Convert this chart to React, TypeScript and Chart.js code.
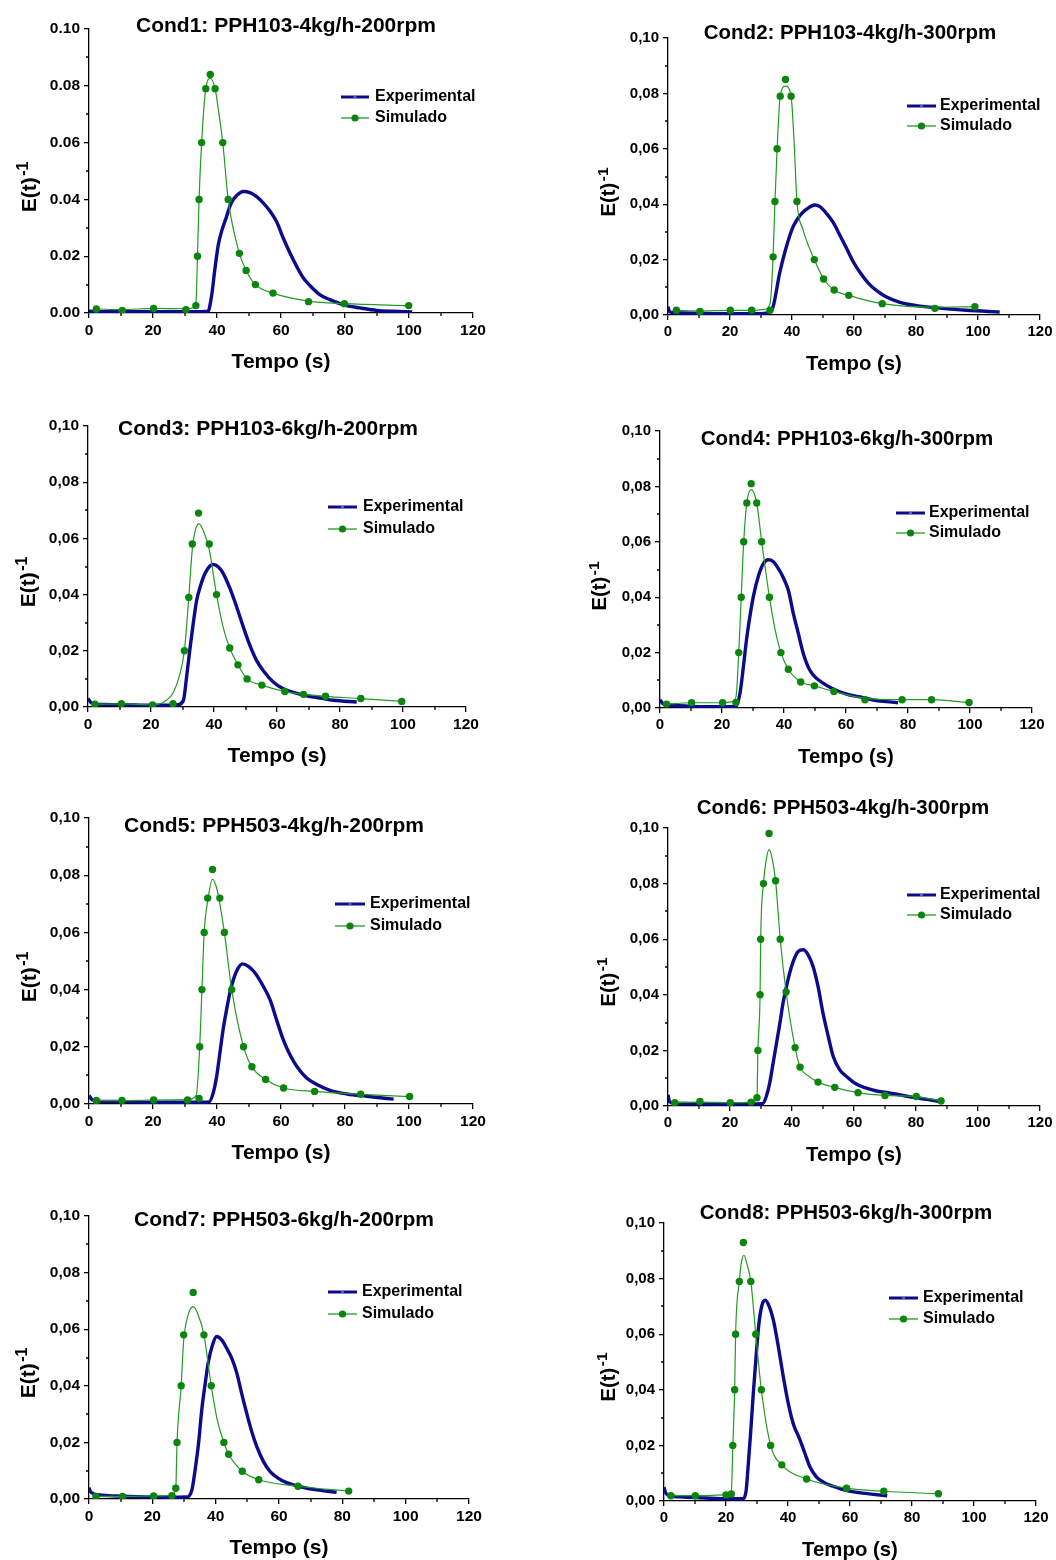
import React, { useEffect, useRef } from 'react';
import { Chart, registerables } from 'chart.js';

Chart.register(...registerables);

const FONT = '"Liberation Sans", Arial, Helvetica, sans-serif';
const EXP_COLOR = '#0b0b8c';
const SIM_LINE_COLOR = '#259a25';
const SIM_MARK_COLOR = '#0c850c';

// ---------- axis ticks ----------
const X_TICKS = [0, 20, 40, 60, 80, 100, 120];
const X_MINOR = [10, 30, 50, 70, 90, 110];
const Y_TICKS = [0, 0.02, 0.04, 0.06, 0.08, 0.1];
const Y_MINOR = [0.01, 0.03, 0.05, 0.07, 0.09];

const SERIES_NAMES = ['Experimental', 'Simulado'];

// ---------- Cond1 ----------
const c1ExpT = [0, 5, 10, 15, 20, 25, 30, 35, 37.2, 38.3, 39.4, 40.4, 41.5, 43, 44, 45.1, 46.1, 48.2, 50.3, 52.4, 54.5, 56.6, 58.6, 60.7, 62.8, 64.9, 67, 69.1, 72.2, 75.3, 79.5, 84.7, 90, 95, 101];
const c1ExpE = [0.0006, 0.0005, 0.0005, 0.0005, 0.0005, 0.0005, 0.0005, 0.0005, 0.0006, 0.006, 0.016, 0.024, 0.029, 0.034, 0.0375, 0.04, 0.0413, 0.0428, 0.0424, 0.041, 0.0387, 0.0358, 0.0322, 0.0264, 0.0211, 0.0164, 0.0123, 0.0096, 0.0064, 0.0047, 0.0029, 0.0018, 0.0009, 0.0006, 0.0004];
const c1SimT = [2.3, 10.4, 20.2, 30.3, 33.4, 33.9, 34.4, 35.2, 36.5, 37.9, 39.4, 41.8, 43.5, 47.0, 49.1, 52.0, 57.5, 68.6, 79.8, 99.9];
const c1SimE = [0.0014, 0.0009, 0.0016, 0.0012, 0.0026, 0.02, 0.04, 0.06, 0.079, 0.084, 0.079, 0.06, 0.04, 0.021, 0.015, 0.01, 0.007, 0.004, 0.0033, 0.0026];
const c1FitT = [2.3, 10.4, 20.2, 30.3, 32.5, 33.4, 33.9, 34.4, 35.2, 36.5, 37.9, 39.4, 40.5, 41.8, 43.5, 47.0, 49.1, 52.0, 57.5, 68.6, 79.8, 99.9];
const c1FitE = [0.0014, 0.0012, 0.0016, 0.0015, 0.0018, 0.0035, 0.02, 0.04, 0.06, 0.079, 0.0826, 0.079, 0.071, 0.06, 0.04, 0.021, 0.015, 0.01, 0.007, 0.0042, 0.0033, 0.0026];

// ---------- Cond2 ----------
const c2ExpT = [0, 0.5, 2, 5, 10, 15, 20, 25, 30, 32, 33.9, 36, 38.2, 40.4, 42.5, 44.7, 47.4, 49, 51.1, 53.3, 55.4, 57.6, 59.7, 61.9, 64.6, 67.3, 70.5, 74.8, 80.2, 87.7, 96.3, 107];
const c2ExpE = [0.003, 0.0012, 0.0008, 0.0007, 0.0006, 0.0005, 0.0005, 0.0005, 0.0005, 0.0008, 0.003, 0.015, 0.0247, 0.032, 0.0358, 0.0382, 0.0397, 0.0391, 0.0367, 0.0334, 0.0289, 0.0241, 0.0193, 0.0154, 0.0115, 0.0088, 0.0065, 0.0046, 0.0034, 0.0025, 0.0017, 0.0011];
const c2SimT = [2.7, 10.3, 20.1, 27.0, 32.9, 33.9, 34.5, 35.2, 36.2, 37.9, 39.7, 41.6, 47.2, 50.2, 53.6, 58.3, 69.1, 86.1, 99.0];
const c2SimE = [0.0017, 0.0013, 0.0017, 0.0017, 0.0017, 0.021, 0.041, 0.06, 0.079, 0.085, 0.079, 0.041, 0.02, 0.013, 0.009, 0.0071, 0.0041, 0.0024, 0.003];
const c2FitT = [2.7, 10.3, 20.1, 27.0, 31, 32.9, 33.9, 34.5, 35.2, 36.2, 37.9, 39.7, 40.7, 41.6, 43.5, 47.2, 50.2, 53.6, 58.3, 69.1, 86.1, 99.0];
const c2FitE = [0.0017, 0.0015, 0.0017, 0.0017, 0.002, 0.004, 0.021, 0.041, 0.06, 0.079, 0.0826, 0.079, 0.062, 0.041, 0.031, 0.02, 0.013, 0.009, 0.0071, 0.0041, 0.0028, 0.003];

// ---------- Cond3 ----------
const c3ExpT = [0, 1, 2.5, 5, 10, 15, 20, 25, 28.5, 30.3, 31.3, 32.4, 33.4, 34.5, 35.6, 37.1, 38.7, 39.8, 41.4, 43, 45.1, 47.2, 49.3, 51.4, 53.5, 55.7, 58.8, 62, 65.2, 69.4, 73.7, 77.9, 85.3];
const c3ExpE = [0.003, 0.0015, 0.001, 0.0009, 0.0008, 0.0007, 0.0006, 0.0006, 0.0008, 0.0024, 0.0107, 0.021, 0.0297, 0.038, 0.0427, 0.0474, 0.0502, 0.0507, 0.0498, 0.0474, 0.0421, 0.0356, 0.0285, 0.0219, 0.0166, 0.0128, 0.0089, 0.0065, 0.0052, 0.004, 0.0032, 0.0024, 0.0018];
const c3SimT = [2.2, 10.6, 20.5, 27.0, 30.6, 32.0, 33.1, 35.1, 38.5, 40.8, 45.0, 47.6, 50.5, 55.2, 62.5, 68.4, 75.4, 86.6, 99.6];
const c3SimE = [0.001, 0.0012, 0.0007, 0.0012, 0.02, 0.039, 0.058, 0.069, 0.058, 0.04, 0.021, 0.015, 0.01, 0.0078, 0.0055, 0.0045, 0.0038, 0.003, 0.002];
const c3FitT = [2.2, 10.6, 20.5, 23, 25, 27, 29, 30.6, 32.0, 33.1, 34.2, 35.3, 36.5, 38.5, 40.8, 43, 45.0, 47.6, 50.5, 55.2, 62.5, 68.4, 75.4, 86.6, 99.6];
const c3FitE = [0.001, 0.0011, 0.0008, 0.0012, 0.0025, 0.005, 0.011, 0.02, 0.039, 0.056, 0.0635, 0.0652, 0.063, 0.056, 0.04, 0.028, 0.021, 0.015, 0.01, 0.0078, 0.0055, 0.0045, 0.0038, 0.003, 0.002];

// ---------- Cond4 ----------
const c4ExpT = [0, 1, 3, 6, 10, 15, 20, 24.5, 25.8, 26.9, 27.9, 29, 30.1, 31.7, 33.3, 34.9, 36.5, 38.1, 39.8, 41.4, 43, 44.6, 46.2, 48.3, 50.5, 52.6, 54.8, 58, 61.2, 64.5, 68.8, 73.1, 76.8];
const c4ExpE = [0.003, 0.0015, 0.001, 0.0008, 0.0006, 0.0005, 0.0005, 0.0006, 0.0053, 0.0149, 0.0246, 0.033, 0.0402, 0.0475, 0.052, 0.0535, 0.0529, 0.0505, 0.047, 0.0425, 0.0342, 0.027, 0.0198, 0.0137, 0.0107, 0.009, 0.0075, 0.0058, 0.0047, 0.004, 0.0029, 0.0023, 0.0019];
const c4SimT = [2.1, 10.2, 20.2, 24.5, 25.4, 26.2, 27.0, 28.0, 29.4, 31.2, 32.8, 35.3, 39.0, 41.4, 45.4, 49.8, 56.1, 66.1, 78.1, 87.6, 99.7];
const c4SimE = [0.0014, 0.0019, 0.0019, 0.002, 0.02, 0.04, 0.06, 0.074, 0.081, 0.074, 0.06, 0.04, 0.02, 0.014, 0.0094, 0.008, 0.006, 0.003, 0.003, 0.003, 0.002];
const c4FitT = [2.1, 10.2, 20.2, 23, 24.5, 25.4, 26.2, 27.0, 28.0, 29.4, 31.2, 32.8, 35.3, 37, 39.0, 41.4, 45.4, 49.8, 56.1, 66.1, 78.1, 87.6, 99.7];
const c4FitE = [0.0014, 0.0019, 0.0019, 0.0022, 0.004, 0.02, 0.04, 0.06, 0.074, 0.0788, 0.074, 0.06, 0.04, 0.029, 0.02, 0.014, 0.0094, 0.008, 0.006, 0.0035, 0.003, 0.003, 0.002];

// ---------- Cond5 ----------
const c5ExpT = [0, 1, 3, 6, 10, 15, 20, 25, 30, 35, 37.5, 38.8, 39.9, 40.9, 41.9, 43, 44, 45.1, 46.6, 48, 49.8, 51.9, 54.5, 56.6, 58.6, 60.7, 62.8, 64.9, 68, 71.2, 75.3, 80.6, 86.8, 95.2];
const c5ExpE = [0.003, 0.0015, 0.001, 0.0009, 0.0008, 0.0007, 0.0006, 0.0006, 0.0006, 0.0006, 0.0007, 0.0038, 0.0097, 0.0178, 0.026, 0.033, 0.0388, 0.0434, 0.0475, 0.049, 0.0481, 0.0458, 0.0411, 0.0364, 0.0295, 0.0225, 0.0172, 0.0132, 0.0091, 0.0068, 0.0048, 0.0035, 0.0027, 0.0017];
const c5SimT = [2.3, 10.3, 20.2, 30.8, 34.4, 34.6, 35.3, 36.0, 37.1, 38.6, 40.9, 42.3, 44.6, 48.3, 50.9, 55.2, 60.8, 70.5, 84.9, 100.2];
const c5SimE = [0.0012, 0.0012, 0.0014, 0.0014, 0.0019, 0.02, 0.04, 0.06, 0.072, 0.082, 0.072, 0.06, 0.04, 0.02, 0.013, 0.0086, 0.0056, 0.0044, 0.0034, 0.0026];
const c5FitT = [2.3, 10.3, 20.2, 30.8, 33.5, 34.6, 35.3, 36.0, 37.1, 38.6, 40.0, 40.9, 42.3, 44.6, 48.3, 50.9, 55.2, 60.8, 70.5, 84.9, 100.2];
const c5FitE = [0.0012, 0.0012, 0.0014, 0.0015, 0.003, 0.02, 0.04, 0.06, 0.071, 0.0786, 0.075, 0.07, 0.06, 0.04, 0.02, 0.013, 0.0086, 0.0056, 0.0044, 0.0034, 0.0026];

// ---------- Cond6 ----------
const c6ExpT = [0, 0.5, 2, 5, 10, 15, 20, 25, 30.5, 31.7, 32.8, 33.9, 35, 36.1, 37.1, 38.7, 40.4, 42, 43.6, 45.2, 46.8, 48.4, 50, 51.7, 53.3, 55.4, 57.6, 60.3, 63.5, 67.3, 70.5, 74.8, 79.1, 83.4, 87.7];
const c6ExpE = [0.004, 0.0015, 0.001, 0.0009, 0.0008, 0.0007, 0.0007, 0.0007, 0.0008, 0.0034, 0.0082, 0.0154, 0.0226, 0.0298, 0.037, 0.0454, 0.052, 0.0556, 0.0562, 0.0544, 0.0502, 0.043, 0.0334, 0.025, 0.0178, 0.013, 0.0106, 0.0082, 0.0066, 0.0054, 0.0049, 0.004, 0.0031, 0.0024, 0.0016];
const c6SimT = [2.2, 10.3, 20.1, 26.8, 28.7, 29.0, 29.7, 29.9, 30.8, 32.6, 34.7, 36.2, 38.1, 41.0, 42.6, 48.4, 53.8, 61.3, 70.0, 80.1, 88.1];
const c6SimE = [0.0012, 0.0016, 0.0012, 0.0014, 0.003, 0.02, 0.04, 0.06, 0.08, 0.098, 0.081, 0.06, 0.041, 0.021, 0.014, 0.0086, 0.0067, 0.0048, 0.0038, 0.0034, 0.0018];
const c6FitT = [2.2, 10.3, 20.1, 26.8, 28.0, 28.7, 29.0, 29.7, 29.9, 30.8, 31.6, 32.6, 33.6, 34.7, 36.2, 38.1, 41.0, 42.6, 45, 48.4, 53.8, 61.3, 70.0, 80.1, 88.1];
const c6FitE = [0.0012, 0.0014, 0.0012, 0.0014, 0.0018, 0.003, 0.02, 0.04, 0.06, 0.08, 0.088, 0.0922, 0.089, 0.081, 0.06, 0.041, 0.021, 0.014, 0.011, 0.0086, 0.0067, 0.0048, 0.0038, 0.0034, 0.0018];

// ---------- Cond7 ----------
const c7ExpT = [0, 0.5, 3, 6, 10, 15, 20, 25, 31, 32.5, 33.5, 34.6, 35.6, 36.7, 37.7, 39, 40.3, 41.9, 43.5, 45.1, 46.7, 48.2, 49.8, 51.4, 53, 55.1, 57.2, 59.8, 62.4, 66.6, 71.9, 78.2];
const c7ExpE = [0.004, 0.0025, 0.0015, 0.0012, 0.001, 0.0008, 0.0007, 0.0006, 0.0007, 0.0032, 0.0102, 0.0197, 0.0314, 0.0409, 0.0485, 0.0544, 0.0574, 0.0562, 0.0532, 0.0497, 0.0444, 0.0373, 0.0303, 0.0238, 0.0185, 0.0132, 0.0097, 0.0073, 0.0058, 0.0044, 0.0032, 0.0024];
const c7SimT = [2.2, 10.6, 20.4, 26.2, 27.4, 27.8, 29.1, 29.9, 32.9, 36.3, 38.6, 42.6, 44.1, 48.4, 53.6, 66.0, 82.0];
const c7SimE = [0.0009, 0.0009, 0.0011, 0.0012, 0.0038, 0.02, 0.04, 0.058, 0.073, 0.058, 0.04, 0.02, 0.0158, 0.0098, 0.0068, 0.0045, 0.0028];
const c7FitT = [2.2, 10.6, 20.4, 25, 26.2, 27.4, 27.8, 29.1, 29.9, 31.3, 32.9, 34.5, 36.3, 38.6, 40.5, 42.6, 44.1, 48.4, 53.6, 66.0, 82.0];
const c7FitE = [0.0009, 0.0009, 0.0011, 0.0012, 0.0015, 0.0038, 0.02, 0.04, 0.056, 0.065, 0.068, 0.065, 0.058, 0.04, 0.028, 0.02, 0.0158, 0.0098, 0.0068, 0.0045, 0.0028];

// ---------- Cond8 ----------
const c8ExpT = [0, 0.5, 1.5, 5, 10, 15, 20, 25.5, 26.5, 27.2, 28, 28.8, 29.7, 30.5, 31.6, 32.7, 34, 35.3, 36.9, 38.5, 40.1, 41.7, 43.7, 45.5, 47.1, 49.2, 51.9, 54.6, 57.8, 62.2, 67.5, 72];
const c8ExpE = [0.005, 0.003, 0.002, 0.0015, 0.0012, 0.001, 0.0008, 0.0008, 0.0038, 0.0134, 0.0254, 0.0386, 0.0518, 0.0626, 0.0704, 0.0722, 0.0698, 0.065, 0.0554, 0.0446, 0.035, 0.0278, 0.0224, 0.017, 0.0122, 0.0086, 0.0065, 0.0053, 0.0041, 0.0031, 0.0024, 0.0019];
const c8SimT = [2.2, 10.1, 20.0, 21.7, 22.2, 22.8, 23.1, 24.3, 25.6, 28.0, 29.6, 31.4, 34.4, 38.0, 46.0, 58.9, 70.9, 88.5];
const c8SimE = [0.0019, 0.0019, 0.0022, 0.0025, 0.02, 0.04, 0.06, 0.079, 0.093, 0.079, 0.06, 0.04, 0.02, 0.013, 0.0079, 0.0046, 0.0035, 0.0026];
const c8FitT = [2.2, 10.1, 20.0, 21.7, 22.2, 22.8, 23.1, 24.3, 25.0, 25.8, 26.8, 28.0, 29.6, 31.4, 34.4, 38.0, 46.0, 58.9, 70.9, 88.5];
const c8FitE = [0.0019, 0.0019, 0.0022, 0.003, 0.02, 0.04, 0.06, 0.079, 0.086, 0.0884, 0.085, 0.079, 0.06, 0.04, 0.02, 0.013, 0.0079, 0.0046, 0.0035, 0.0026];

const TITLES = [
  'Cond1: PPH103-4kg/h-200rpm',
  'Cond2: PPH103-4kg/h-300rpm',
  'Cond3: PPH103-6kg/h-200rpm',
  'Cond4: PPH103-6kg/h-300rpm',
  'Cond5: PPH503-4kg/h-200rpm',
  'Cond6: PPH503-4kg/h-300rpm',
  'Cond7: PPH503-6kg/h-200rpm',
  'Cond8: PPH503-6kg/h-300rpm',
];
const X_TITLE = 'Tempo (s)';
const Y_TITLE_MAIN = 'E(t)';
const Y_TITLE_SUP = '-1';

type Layout = {
  col: number; dec: string; fs: number;
  L: number; T: number; R: number; B: number;
  tx: number; ty: number;
  lx0: number; lx1: number; ltx: number; ly1: number; ly2: number;
  yx: number; yy: number;
};

// page-coordinate layout of each panel (positions only)
const LAYOUTS: Layout[] = [
  { col: 0, dec: '.', fs: 1, L: 89, T: 29, R: 473, B: 313, tx: 286, ty: 26, lx0: 341, lx1: 369, ltx: 375, ly1: 97, ly2: 118, yx: 28, yy: 187 },
  { col: 1, dec: ',', fs: 0.97, L: 668, T: 38, R: 1040, B: 315, tx: 850, ty: 33, lx0: 907, lx1: 936, ltx: 940, ly1: 106, ly2: 126, yx: 608, yy: 192 },
  { col: 0, dec: ',', fs: 1, L: 88, T: 426, R: 466, B: 707, tx: 268, ty: 429, lx0: 328, lx1: 357, ltx: 363, ly1: 507, ly2: 529, yx: 27, yy: 582 },
  { col: 1, dec: ',', fs: 0.97, L: 660, T: 431, R: 1032, B: 708, tx: 847, ty: 439, lx0: 896, lx1: 925, ltx: 929, ly1: 513, ly2: 533, yx: 599, yy: 586 },
  { col: 0, dec: ',', fs: 1, L: 89, T: 818, R: 473, B: 1104, tx: 274, ty: 826, lx0: 335, lx1: 365, ltx: 370, ly1: 904, ly2: 926, yx: 28.5, yy: 977 },
  { col: 1, dec: ',', fs: 0.97, L: 668, T: 828, R: 1040, B: 1106, tx: 843, ty: 808, lx0: 907, lx1: 936, ltx: 940, ly1: 895, ly2: 915, yx: 607.5, yy: 982 },
  { col: 0, dec: ',', fs: 1, L: 89, T: 1216, R: 469, B: 1499, tx: 284, ty: 1220, lx0: 328, lx1: 357, ltx: 362, ly1: 1292, ly2: 1314, yx: 27.5, yy: 1373 },
  { col: 1, dec: ',', fs: 0.97, L: 664, T: 1223, R: 1036, B: 1501, tx: 846, ty: 1213, lx0: 889, lx1: 918, ltx: 923, ly1: 1298, ly2: 1319, yx: 607.5, yy: 1377 },
];

const SERIES = [
  { expT: c1ExpT, expE: c1ExpE, simT: c1SimT, simE: c1SimE, fitT: c1FitT, fitE: c1FitE },
  { expT: c2ExpT, expE: c2ExpE, simT: c2SimT, simE: c2SimE, fitT: c2FitT, fitE: c2FitE },
  { expT: c3ExpT, expE: c3ExpE, simT: c3SimT, simE: c3SimE, fitT: c3FitT, fitE: c3FitE },
  { expT: c4ExpT, expE: c4ExpE, simT: c4SimT, simE: c4SimE, fitT: c4FitT, fitE: c4FitE },
  { expT: c5ExpT, expE: c5ExpE, simT: c5SimT, simE: c5SimE, fitT: c5FitT, fitE: c5FitE },
  { expT: c6ExpT, expE: c6ExpE, simT: c6SimT, simE: c6SimE, fitT: c6FitT, fitE: c6FitE },
  { expT: c7ExpT, expE: c7ExpE, simT: c7SimT, simE: c7SimE, fitT: c7FitT, fitE: c7FitE },
  { expT: c8ExpT, expE: c8ExpE, simT: c8SimT, simE: c8SimE, fitT: c8FitT, fitE: c8FitE },
];

const pts = (t: number[], e: number[]) => t.map((x, i) => ({ x, y: e[i] }));

const X_AXIS_BELOW = 66;

function PanelChart({ idx }: { idx: number }) {
  const ref = useRef<HTMLCanvasElement | null>(null);
  const lay = LAYOUTS[idx];
  const colX = lay.col === 0 ? 0 : 540;
  const top = Math.max(0, lay.T - 40);
  const w = lay.R - colX + 24;
  const h = lay.B - top + X_AXIS_BELOW;

  useEffect(() => {
    const s = SERIES[idx];
    const fs = lay.fs;
    const tickFont = { family: FONT, size: 15.5 * fs, weight: 'bold' as const };

    const textPlugin = {
      id: 'panelText',
      afterDraw(chart: any) {
        const ctx = chart.ctx as CanvasRenderingContext2D;
        const xs = chart.scales.x;
        const ys = chart.scales.y;
        const ca = chart.chartArea;
        ctx.save();
        // minor ticks
        ctx.strokeStyle = '#000';
        ctx.lineWidth = 1.3;
        ctx.beginPath();
        X_MINOR.forEach((v) => {
          const px = Math.round(xs.getPixelForValue(v));
          ctx.moveTo(px, ca.bottom);
          ctx.lineTo(px, ca.bottom + 3);
        });
        Y_MINOR.forEach((v) => {
          const py = Math.round(ys.getPixelForValue(v));
          ctx.moveTo(ca.left - 3, py);
          ctx.lineTo(ca.left, py);
        });
        ctx.stroke();

        // panel title
        ctx.fillStyle = '#000';
        ctx.textAlign = 'center';
        ctx.textBaseline = 'middle';
        ctx.font = `bold ${21 * (fs < 1 ? 0.975 : 1)}px ${FONT}`;
        ctx.fillText(TITLES[idx], lay.tx - colX, lay.ty - top);

        // legend
        const ly1 = lay.ly1 - top;
        const ly2 = lay.ly2 - top;
        const lx0 = lay.lx0 - colX;
        const lx1 = lay.lx1 - colX;
        const mid = (lx0 + lx1) / 2;
        ctx.strokeStyle = EXP_COLOR;
        ctx.lineWidth = 3;
        ctx.beginPath();
        ctx.moveTo(lx0, ly1);
        ctx.lineTo(lx1, ly1);
        ctx.stroke();
        ctx.fillStyle = '#5a5ab0';
        ctx.fillRect(mid - 1.5, ly1 - 1, 3, 2);
        ctx.strokeStyle = SIM_LINE_COLOR;
        ctx.lineWidth = 1.3;
        ctx.beginPath();
        ctx.moveTo(lx0, ly2);
        ctx.lineTo(lx1, ly2);
        ctx.stroke();
        ctx.fillStyle = SIM_MARK_COLOR;
        ctx.beginPath();
        ctx.arc(mid, ly2, 3.6, 0, Math.PI * 2);
        ctx.fill();
        ctx.fillStyle = '#000';
        ctx.textAlign = 'left';
        ctx.font = `bold 16px ${FONT}`;
        ctx.fillText(SERIES_NAMES[0], lay.ltx - colX, ly1);
        ctx.fillText(SERIES_NAMES[1], lay.ltx - colX, ly2);

        // y-axis title with superscript
        ctx.translate(lay.yx - colX, lay.yy - top);
        ctx.rotate(-Math.PI / 2);
        const mainSize = 21 * fs;
        const supSize = 16 * fs;
        const gap = 1.5 * fs;
        ctx.font = `bold ${mainSize}px ${FONT}`;
        const w1 = ctx.measureText(Y_TITLE_MAIN).width;
        ctx.font = `bold ${supSize}px ${FONT}`;
        const w2 = ctx.measureText(Y_TITLE_SUP).width;
        const total = w1 + gap + w2;
        const capMain = mainSize * 0.716;
        ctx.textAlign = 'left';
        ctx.textBaseline = 'alphabetic';
        ctx.font = `bold ${mainSize}px ${FONT}`;
        ctx.fillText(Y_TITLE_MAIN, -total / 2, capMain / 2);
        ctx.font = `bold ${supSize}px ${FONT}`;
        ctx.fillText(Y_TITLE_SUP, -total / 2 + w1 + gap, capMain / 2 - 8 * fs);
        ctx.restore();
      },
    };

    const chart = new Chart(ref.current as HTMLCanvasElement, {
      type: 'line',
      data: {
        datasets: [
          {
            label: SERIES_NAMES[0],
            data: pts(s.expT, s.expE),
            borderColor: EXP_COLOR,
            borderWidth: 3.4,
            pointRadius: 0,
            cubicInterpolationMode: 'monotone',
            order: 3,
          },
          {
            label: SERIES_NAMES[1] + ' fit',
            data: pts(s.fitT, s.fitE),
            borderColor: SIM_LINE_COLOR,
            borderWidth: 1.2,
            pointRadius: 0,
            cubicInterpolationMode: 'monotone',
            order: 2,
          },
          {
            label: SERIES_NAMES[1],
            data: pts(s.simT, s.simE),
            showLine: false,
            pointRadius: 3.7,
            pointBorderWidth: 0,
            pointBackgroundColor: SIM_MARK_COLOR,
            borderColor: SIM_MARK_COLOR,
            order: 1,
          },
        ],
      },
      options: {
        responsive: false,
        animation: false,
        events: [],
        layout: { padding: { left: 0, top: lay.T - top, right: 24, bottom: 0 } },
        plugins: { legend: { display: false }, tooltip: { enabled: false }, title: { display: false } },
        scales: {
          x: {
            type: 'linear',
            min: 0,
            max: 120,
            afterBuildTicks: (sc: any) => {
              sc.ticks = X_TICKS.map((v) => ({ value: v }));
            },
            ticks: {
              font: tickFont,
              color: '#000',
              padding: 3,
              maxRotation: 0,
              autoSkip: false,
              callback: (v: any) => String(v),
            },
            grid: { display: true, drawOnChartArea: false, drawTicks: true, tickLength: 5, color: '#000', lineWidth: 1.3 },
            border: { display: true, color: '#000', width: 1.3 },
            title: {
              display: true,
              text: X_TITLE,
              color: '#000',
              font: { family: FONT, size: 21 * fs, weight: 'bold' },
              padding: { top: 0, bottom: 4 },
            },
            afterFit: (sc: any) => {
              sc.height = X_AXIS_BELOW;
            },
          },
          y: {
            type: 'linear',
            min: 0,
            max: 0.1,
            afterBuildTicks: (sc: any) => {
              sc.ticks = Y_TICKS.map((v) => ({ value: v }));
            },
            ticks: {
              font: tickFont,
              color: '#000',
              padding: 4,
              autoSkip: false,
              callback: (v: any) => {
                const str = Number(v).toFixed(2);
                return lay.dec === ',' ? str.replace('.', ',') : str;
              },
            },
            grid: { display: true, drawOnChartArea: false, drawTicks: true, tickLength: 5, color: '#000', lineWidth: 1.3 },
            border: { display: true, color: '#000', width: 1.3 },
            afterFit: (sc: any) => {
              sc.width = lay.L - colX;
            },
          },
        },
      } as any,
      plugins: [textPlugin],
    });
    return () => chart.destroy();
  }, [idx]);

  return (
    <canvas
      ref={ref}
      width={w}
      height={h}
      style={{ position: 'absolute', left: colX, top, width: w, height: h }}
    />
  );
}

export default function App() {
  return (
    <div
      style={{
        position: 'absolute',
        left: 0,
        top: 0,
        width: 1056,
        height: 1560,
        overflow: 'hidden',
        background: '#ffffff',
      }}
    >
      {LAYOUTS.map((_, i) => (
        <PanelChart key={i} idx={i} />
      ))}
    </div>
  );
}
